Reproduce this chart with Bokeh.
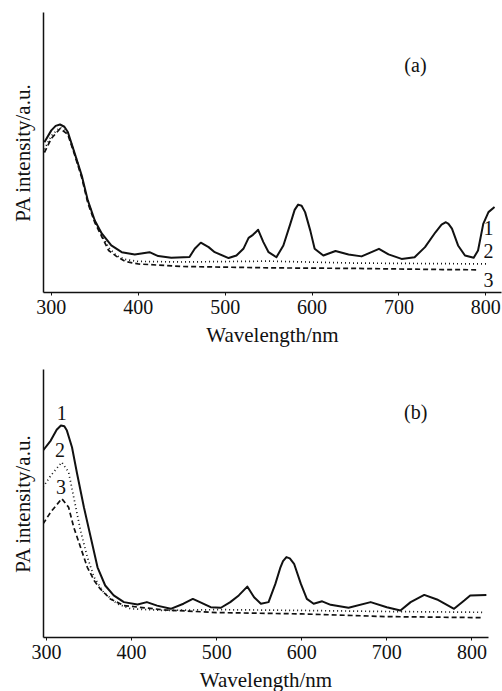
from bokeh.plotting import figure
from bokeh.layouts import column
from bokeh.models import FixedTicker, Range1d, Label
from bokeh.embed import file_html
from bokeh.resources import INLINE

# ---------------- data: panel (a) ----------------
a_wl_1 = [292, 300, 305, 310, 315, 319, 327, 335, 342, 350, 358, 369, 381, 396, 413, 423, 438,
          459, 465, 472, 481, 488, 504, 513, 521, 527, 532, 538, 544, 550, 559, 567, 575, 580,
          584, 588, 592, 598, 603, 613, 627, 642, 657, 677, 688, 703, 718, 730, 742, 749, 754,
          757, 761, 768, 776, 786, 791, 797, 803, 810]
a_int_1 = [5.37, 5.79, 5.95, 6.00, 5.92, 5.73, 4.96, 4.18, 3.29, 2.57, 2.11, 1.68, 1.44, 1.36,
           1.44, 1.30, 1.24, 1.27, 1.56, 1.78, 1.62, 1.44, 1.23, 1.32, 1.56, 1.95, 2.06, 2.24,
           1.80, 1.44, 1.26, 1.68, 2.45, 2.95, 3.14, 3.10, 2.87, 2.21, 1.56, 1.32, 1.48, 1.36,
           1.29, 1.56, 1.36, 1.20, 1.26, 1.62, 2.15, 2.42, 2.51, 2.45, 2.28, 1.68, 1.32, 1.24,
           1.50, 2.45, 2.87, 3.05]

a_wl_2 = [292, 300, 310, 319, 327, 335, 342, 350, 358, 366, 375, 385, 400, 450, 550, 650, 750, 803]
a_int_2 = [5.11, 5.60, 5.90, 5.70, 4.95, 4.15, 3.27, 2.55, 2.07, 1.60, 1.32, 1.18, 1.11, 1.09,
           1.12, 1.05, 1.03, 1.02]

a_wl_3 = [292, 300, 310, 319, 327, 335, 342, 350, 358, 366, 375, 385, 400, 450, 550, 650, 750, 791]
a_int_3 = [5.00, 5.50, 5.85, 5.65, 4.90, 4.10, 3.20, 2.50, 2.00, 1.50, 1.29, 1.11, 1.02, 0.93,
           0.88, 0.86, 0.82, 0.81]

# ---------------- data: panel (b) ----------------
b_wl_1 = [296, 305, 312, 317, 321, 324, 330, 336, 344, 352, 360, 369, 379, 391, 407, 418, 430,
          446, 461, 472, 481, 493, 505, 516, 526, 536, 544, 552, 561, 569, 575, 578, 582, 586,
          591, 599, 606, 614, 624, 634, 655, 681, 700, 716, 728, 744, 759, 779, 791, 798, 817]
b_int_1 = [6.98, 7.35, 7.75, 7.91, 7.88, 7.72, 7.10, 6.11, 4.86, 3.74, 2.62, 1.94, 1.57, 1.32,
           1.23, 1.32, 1.19, 1.07, 1.26, 1.44, 1.31, 1.13, 1.11, 1.32, 1.57, 1.90, 1.50, 1.26,
           1.32, 2.00, 2.62, 2.85, 3.00, 2.95, 2.75, 2.00, 1.44, 1.26, 1.35, 1.22, 1.11, 1.32,
           1.13, 1.01, 1.32, 1.59, 1.42, 1.07, 1.38, 1.57, 1.59]

b_wl_2 = [296, 305, 318, 326, 332, 340, 348, 356, 367, 383, 399, 438, 500, 600, 700, 813]
b_int_2 = [5.61, 6.04, 6.54, 6.17, 5.24, 3.99, 3.00, 2.25, 1.69, 1.26, 1.07, 1.01, 1.04, 1.01,
           0.97, 0.94]

b_wl_3 = [296, 305, 318, 326, 332, 340, 348, 356, 363, 375, 391, 438, 500, 600, 700, 813]
b_int_3 = [4.24, 4.68, 5.18, 4.86, 4.12, 3.37, 2.62, 2.13, 1.82, 1.44, 1.19, 1.03, 0.93, 0.88,
           0.78, 0.74]

x_ticks = [300, 400, 500, 600, 700, 800]
x_title = "Wavelength/nm"
y_title = "PA intensity/a.u."

FONT = "Liberation Serif"
INK = "#111111"


def make_panel(x0, x1, left, fw, right, top, fh, bottom, series, tag, tag_pos, nums):
    p = figure(frame_width=fw, frame_height=fh, output_backend="svg", toolbar_location=None,
               x_range=Range1d(x0, x1), y_range=Range1d(0, 10),
               min_border_left=left, min_border_right=right, min_border_top=top,
               min_border_bottom=bottom)
    p.outline_line_color = None
    p.grid.visible = False
    p.background_fill_color = "white"
    p.border_fill_color = "white"

    styles = [dict(line_width=2.0, line_dash="solid"),
              dict(line_width=1.7, line_dash="1 3"),
              dict(line_width=1.7, line_dash="5 3")]
    for (xs, ys), st in zip(series, styles):
        p.line(xs, ys, line_color=INK, line_join="round", **st)

    xa = p.xaxis[0]
    xa.ticker = FixedTicker(ticks=x_ticks)
    xa.minor_tick_line_color = None
    xa.major_tick_in = 0
    xa.major_tick_out = 3
    xa.axis_line_width = 1.5
    xa.axis_line_color = INK
    xa.major_tick_line_color = INK
    xa.major_label_text_font = FONT
    xa.major_label_text_font_size = "20px"
    xa.major_label_text_color = INK
    xa.major_label_standoff = 4
    xa.axis_label = x_title
    xa.axis_label_text_font = FONT
    xa.axis_label_text_font_size = "21px"
    xa.axis_label_text_font_style = "normal"
    xa.axis_label_text_color = INK
    xa.axis_label_standoff = 6

    ya = p.yaxis[0]
    ya.ticker = FixedTicker(ticks=[])
    ya.minor_tick_line_color = None
    ya.major_tick_line_color = None
    ya.axis_line_width = 1.5
    ya.axis_line_color = INK
    ya.axis_label = y_title
    ya.axis_label_text_font = FONT
    ya.axis_label_text_font_size = "21px"
    ya.axis_label_text_font_style = "normal"
    ya.axis_label_text_color = INK
    ya.axis_label_standoff = 9

    p.add_layout(Label(x=tag_pos[0], y=tag_pos[1], text=tag, text_font=FONT,
                       text_font_size="20px", text_color=INK, text_align="center",
                       text_baseline="middle"))
    for t, (nx, ny) in nums:
        p.add_layout(Label(x=nx, y=ny, text=t, text_font=FONT, text_font_size="20px",
                           text_color=INK, text_align="center", text_baseline="middle"))
    return p


pa = make_panel(291, 818, 42, 458, 2, 12, 280, 62,
                [(a_wl_1, a_int_1), (a_wl_2, a_int_2), (a_wl_3, a_int_3)],
                "(a)", (719, 8.14),
                [("1", (803, 2.29)), ("2", (803, 1.50)), ("3", (803, 0.46))])
pb = make_panel(296.5, 819.5, 43, 445, 14, 15, 268, 54,
                [(b_wl_1, b_int_1), (b_wl_2, b_int_2), (b_wl_3, b_int_3)],
                "(b)", (734, 8.40),
                [("1", (318, 8.38)), ("2", (316, 7.00)), ("3", (317, 5.61))])

layout = column(pa, pb, spacing=0)
open("out.html", "w").write(file_html(layout, INLINE))
